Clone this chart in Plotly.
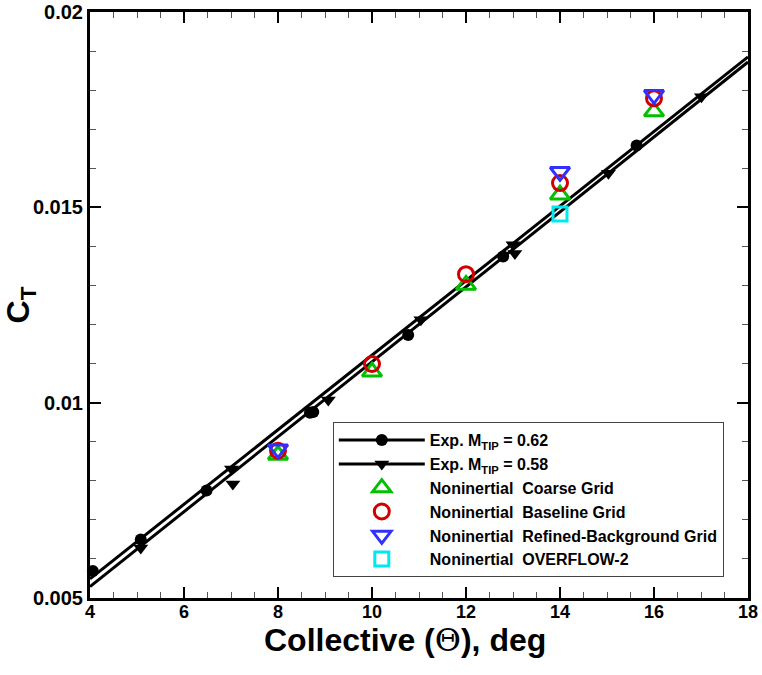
import plotly.graph_objects as go

# ---- data ----
exp062_x = [4.06, 5.08, 6.48, 8.68, 8.75, 10.77, 12.79, 15.63]
exp062_y = [0.00569, 0.00650, 0.00775, 0.00974, 0.00976, 0.01173, 0.01374, 0.01658]

exp058_x = [5.08, 7.01, 7.04, 9.07, 11.04, 13.00, 13.04, 15.03, 17.01]
exp058_y = [0.00628, 0.00830, 0.00792, 0.01007, 0.01212, 0.01404, 0.01382, 0.01587, 0.01783]

fit_x = [4, 18]
fit062_y = [0.00549, 0.01885]
fit058_y = [0.00529, 0.01872]

cfd_x = [8, 10, 12, 14, 16]
coarse_y = [0.00866, 0.01079, 0.01301, 0.01532, 0.01745]
baseline_y = [0.00877, 0.01099, 0.01329, 0.01562, 0.01779]
refined_x = [8, 14, 16]
refined_y = [0.00881, 0.01591, 0.01788]
overflow_x = [14]
overflow_y = [0.01483]

x_ticks = [4, 6, 8, 10, 12, 14, 16, 18]
y_ticks = [0.005, 0.01, 0.015, 0.02]
y_ticklabels = ["0.005", "0.01", "0.015", "0.02"]

x_title = "Collective (<span style='font-family:DejaVu Serif;font-weight:normal'>\u0398</span>), deg"

FONT = "Liberation Sans, Arial, Helvetica, sans-serif"

fig = go.Figure()

# fit lines (no legend)
fig.add_trace(go.Scatter(x=fit_x, y=fit062_y, mode="lines",
                         line=dict(color="black", width=3), showlegend=False, hoverinfo="skip"))
fig.add_trace(go.Scatter(x=fit_x, y=fit058_y, mode="lines",
                         line=dict(color="black", width=3), showlegend=False, hoverinfo="skip"))
# experimental markers
fig.add_trace(go.Scatter(x=exp062_x, y=exp062_y, mode="markers", cliponaxis=False,
                         marker=dict(symbol="circle", size=12, color="black"), showlegend=False))
fig.add_trace(go.Scatter(x=exp058_x, y=exp058_y, mode="markers", cliponaxis=False,
                         marker=dict(symbol="triangle-down", size=13, color="black"), showlegend=False))

# legend entries for experiments
fig.add_trace(go.Scatter(x=[None], y=[None], mode="lines+markers",
                         name="Exp. M<sub>TIP</sub> = 0.62",
                         line=dict(color="black", width=3),
                         marker=dict(symbol="circle", size=12, color="black")))
fig.add_trace(go.Scatter(x=[None], y=[None], mode="lines+markers",
                         name="Exp. M<sub>TIP</sub> = 0.58",
                         line=dict(color="black", width=3),
                         marker=dict(symbol="triangle-down", size=13, color="black")))

# CFD
fig.add_trace(go.Scatter(x=cfd_x, y=coarse_y, mode="markers", cliponaxis=False,
                         name="Noninertial\u00a0\u00a0Coarse Grid",
                         marker=dict(symbol="triangle-up-open", size=17, color="#00c000",
                                     line=dict(width=3, color="#00c000"))))
fig.add_trace(go.Scatter(x=cfd_x, y=baseline_y, mode="markers", cliponaxis=False,
                         name="Noninertial\u00a0\u00a0Baseline Grid",
                         marker=dict(symbol="circle-open", size=15, color="#d00000",
                                     line=dict(width=3, color="#d00000"))))
fig.add_trace(go.Scatter(x=refined_x, y=refined_y, mode="markers", cliponaxis=False,
                         name="Noninertial\u00a0\u00a0Refined-Background Grid",
                         marker=dict(symbol="triangle-down-open", size=17, color="#3030ff",
                                     line=dict(width=3, color="#3030ff"))))
fig.add_trace(go.Scatter(x=overflow_x, y=overflow_y, mode="markers", cliponaxis=False,
                         name="Noninertial\u00a0\u00a0OVERFLOW-2",
                         marker=dict(symbol="square-open", size=14, color="#00e8f0",
                                     line=dict(width=3, color="#00e8f0"))))

axis_common = dict(showline=True, linecolor="black", linewidth=3, mirror="ticks",
                   ticks="inside", ticklen=11, tickwidth=2, tickcolor="black",
                   showgrid=False, zeroline=False, automargin=False)

fig.update_xaxes(range=[4, 18], tickvals=x_ticks, ticklabelstandoff=-5,
                 tickfont=dict(family=FONT, size=18, color="black", weight="bold"),
                 minor=dict(ticks="inside", ticklen=6, tickwidth=1, tickcolor="#555", dtick=0.5),
                 **axis_common)
fig.update_yaxes(range=[0.005, 0.02], tickvals=y_ticks, ticktext=y_ticklabels,
                 tickfont=dict(family=FONT, size=20, color="black", weight="bold"),
                 title=dict(text="C<sub>T</sub>",
                            font=dict(family=FONT, size=32, color="black", weight="bold"),
                            standoff=18),
                 minor=dict(ticks="inside", ticklen=6, tickwidth=1, tickcolor="#555", dtick=0.001),
                 **axis_common)

# x-axis title (slightly left of plot centre in the reference)
fig.add_annotation(text=x_title, xref="paper", yref="paper", x=0.479, y=-0.072,
                   xanchor="center", yanchor="middle", showarrow=False,
                   font=dict(family=FONT, size=32, color="black", weight="bold"))

fig.update_layout(
    width=762, height=675,
    margin=dict(l=90, r=14, t=12, b=77),
    paper_bgcolor="white", plot_bgcolor="white",
    legend=dict(x=0.369, y=0.300, xanchor="left", yanchor="top",
                bgcolor="white", bordercolor="#444", borderwidth=1,
                font=dict(family=FONT, size=16, color="black", weight="bold"),
                itemwidth=86, tracegroupgap=0),
    showlegend=True,
)

fig.write_html("out.html", config={"displayModeBar": False},
               post_script="document.body.style.margin='0';")
